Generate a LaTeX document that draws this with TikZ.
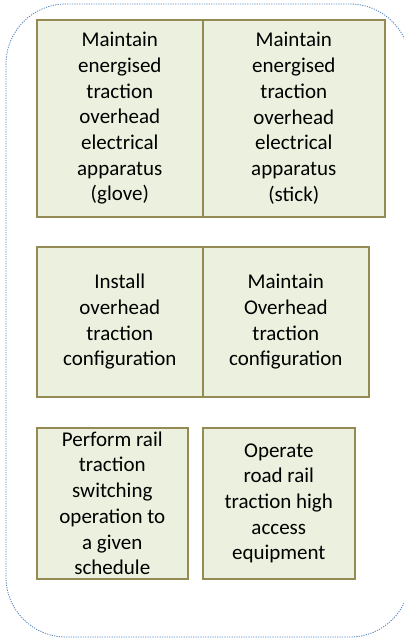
\documentclass[tikz,border=0pt]{standalone}
\usepackage{fontspec}
\setmainfont{Carlito}
\usepackage{xcolor}
\usepackage{tikz}
\usetikzlibrary{positioning}
\definecolor{boxfill}{HTML}{EBF1DE}
\definecolor{boxline}{HTML}{948A54}
\definecolor{frameline}{HTML}{4F81BD}
\begin{document}
\begin{tikzpicture}[
                    x=1pt, y=-1pt,
                    unitbox/.style={
                        draw=boxline,
                        fill=boxfill,
                        line width=1.6pt,
                        anchor=north west,
                        align=center,
                        inner sep=0pt,
                        font=\fontsize{21}{25.7}\selectfont
                    },
                    groupframe/.style={
                        draw=frameline,
                        line width=0.8pt,
                        dash pattern=on 1.2pt off 1.2pt,
                        rounded corners=60pt
                    }
                ]
                \useasboundingbox (0,0) rectangle (404,641);
                \clip (0,0) rectangle (404,641);

                % Cadre pointille
                \draw[groupframe] (6,4) rectangle (410,637);

                % Premiere ligne
                \node[unitbox, minimum width=166pt, minimum height=197pt] (glove) at (36,19)
                    {Maintain\\ energised\\ traction\\ overhead\\ electrical\\ apparatus\\ (glove)};
                \node[unitbox, minimum width=182pt, minimum height=197pt] (stick) at (202,19)
                    {Maintain\\ energised\\ traction\\ overhead\\ electrical\\ apparatus\\ (stick)};

                % Deuxieme ligne
                \node[unitbox, minimum width=166pt, minimum height=150pt] (install) at (36,246)
                    {Install\\ overhead\\ traction\\ configuration};
                \node[unitbox, minimum width=166pt, minimum height=150pt] (maintain) at (202,246)
                    {Maintain\\ Overhead\\ traction\\ configuration};

                % Troisieme ligne
                \node[unitbox, minimum width=151pt, minimum height=151pt] (switching) at (36,427)
                    {Perform rail\\ traction\\ switching\\ operation to\\ a given\\ schedule};
                \node[unitbox, minimum width=152pt, minimum height=151pt] (roadrail) at (202,427)
                    {Operate\\ road rail\\ traction high\\ access\\ equipment};

            \end{tikzpicture}
\end{document}
